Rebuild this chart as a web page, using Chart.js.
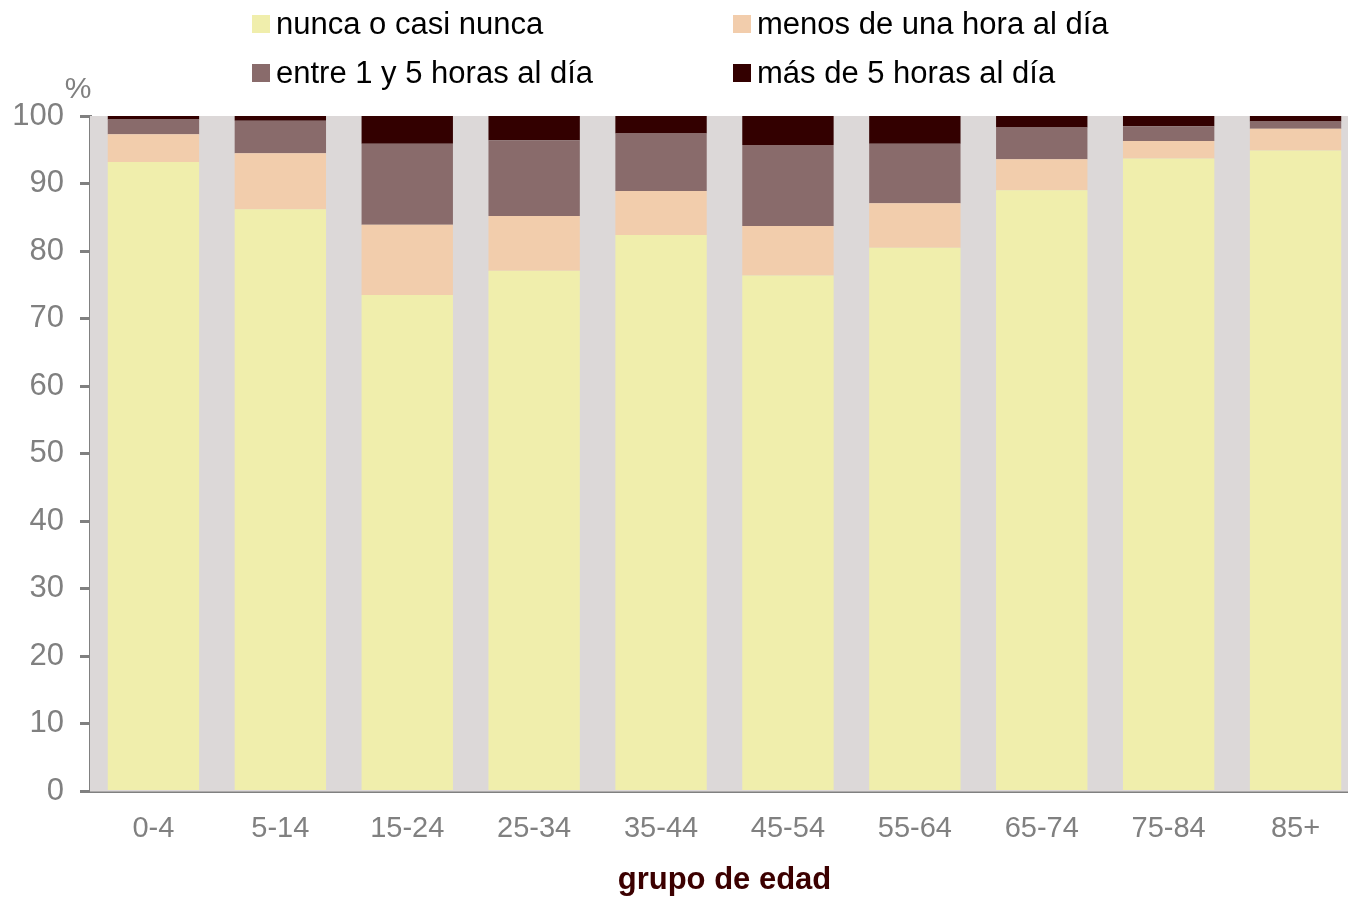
<!DOCTYPE html>
<html lang="es">
<head>
<meta charset="utf-8">
<title>Tiempo frente al televisor por grupo de edad</title>
<script src="https://cdn.jsdelivr.net/npm/chart.js@4.4.1/dist/chart.umd.min.js"></script>
<style>
    html, body { margin: 0; padding: 0; background: #ffffff; overflow: hidden; }
    /* the plot runs a little past the right edge of the page */
    #wrap { width: 1348px; height: 899px; position: relative; overflow: hidden; }
</style>
</head>
<body>
<div id="wrap"><canvas id="tvChart" width="1359" height="899"></canvas></div>
<script>
// Age groups on the x axis
const gruposEdad = ['0-4', '5-14', '15-24', '25-34', '35-44', '45-54', '55-64', '65-74', '75-84', '85+'];

// Share of each age group (%), one array per answer
const nuncaCasiNunca = [93.2, 86.2, 73.5, 77.1, 82.4, 76.4, 80.5, 89.0, 93.7, 94.9];
const menosDeUnaHora = [4.1, 8.3, 10.4, 8.1, 6.5, 7.3, 6.6, 4.6, 2.6, 3.2];
const entre1y5Horas  = [2.2, 4.8, 12.0, 11.2, 8.5, 12.0, 8.8, 4.7, 2.2, 1.1];
const masDe5Horas    = [0.5, 0.7, 4.1, 3.6, 2.6, 4.3, 4.1, 1.7, 1.5, 0.8];

const etiquetas = ['nunca o casi nunca', 'menos de una hora al día', 'entre 1 y 5 horas al día', 'más de 5 horas al día'];
const colores = ['#f0eeac', '#f2cdac', '#896b6b', '#330000'];

const FONT = "'Liberation Sans', Arial, sans-serif";
const GRIS = '#808080';

// grey plot background, the "%" unit and the 2x2 legend on top
const fondoYLeyenda = {
    id: 'fondoYLeyenda',
    beforeDatasetsDraw(chart) {
        const { ctx, chartArea: a } = chart;
        ctx.save();
        ctx.fillStyle = '#dcd8d8';
        ctx.fillRect(a.left, a.top, a.right - a.left, a.bottom - a.top);
        ctx.restore();
    },
    afterDraw(chart) {
        const ctx = chart.ctx;
        ctx.save();
        ctx.fillStyle = GRIS;
        ctx.font = '30px ' + FONT;
        ctx.textAlign = 'center';
        ctx.textBaseline = 'middle';
        ctx.fillText('%', 78, 90);

        const cols = [252, 733];
        const rows = [24, 73];
        ctx.font = '31px ' + FONT;
        ctx.textAlign = 'left';
        chart.data.datasets.forEach((ds, i) => {
            const x = cols[i % 2];
            const y = rows[Math.floor(i / 2)];
            ctx.fillStyle = ds.backgroundColor;
            ctx.fillRect(x, y - 9, 18, 18);
            ctx.fillStyle = '#000000';
            ctx.fillText(ds.label, x + 24, y + 1);
        });
        ctx.restore();
    }
};

const series = [nuncaCasiNunca, menosDeUnaHora, entre1y5Horas, masDe5Horas];

new Chart(document.getElementById('tvChart'), {
    type: 'bar',
    data: {
        labels: gruposEdad,
        datasets: series.map((vals, i) => ({
            label: etiquetas[i],
            data: vals,
            backgroundColor: colores[i],
            borderWidth: 0,
            barPercentage: 0.72,
            categoryPercentage: 1.0
        }))
    },
    plugins: [fondoYLeyenda],
    options: {
        responsive: false,
        animation: false,
        layout: { padding: { top: 116, right: 0, left: 0, bottom: 0 } },
        plugins: {
            legend: { display: false },
            tooltip: { enabled: false }
        },
        scales: {
            x: {
                stacked: true,
                afterFit: (s) => { s.height = 107.5; },
                grid: { display: true, drawOnChartArea: false, drawTicks: false },
                border: { display: true, color: GRIS, width: 3 },
                ticks: { color: GRIS, font: { family: FONT, size: 29 }, padding: 20, maxRotation: 0 },
                title: {
                    display: true,
                    text: 'grupo de edad',
                    color: '#3c0000',
                    font: { family: FONT, size: 31, weight: 'bold' },
                    padding: { top: 0, bottom: 0 }
                }
            },
            y: {
                stacked: true,
                min: 0,
                max: 100,
                afterFit: (s) => { s.width = 90; },
                grid: { display: true, drawOnChartArea: false, drawTicks: true, tickLength: 10, color: GRIS, lineWidth: 3 },
                border: { display: true, color: GRIS, width: 3 },
                ticks: { stepSize: 10, color: GRIS, font: { family: FONT, size: 31 }, padding: 16 }
            }
        }
    }
});
</script>
</body>
</html>
